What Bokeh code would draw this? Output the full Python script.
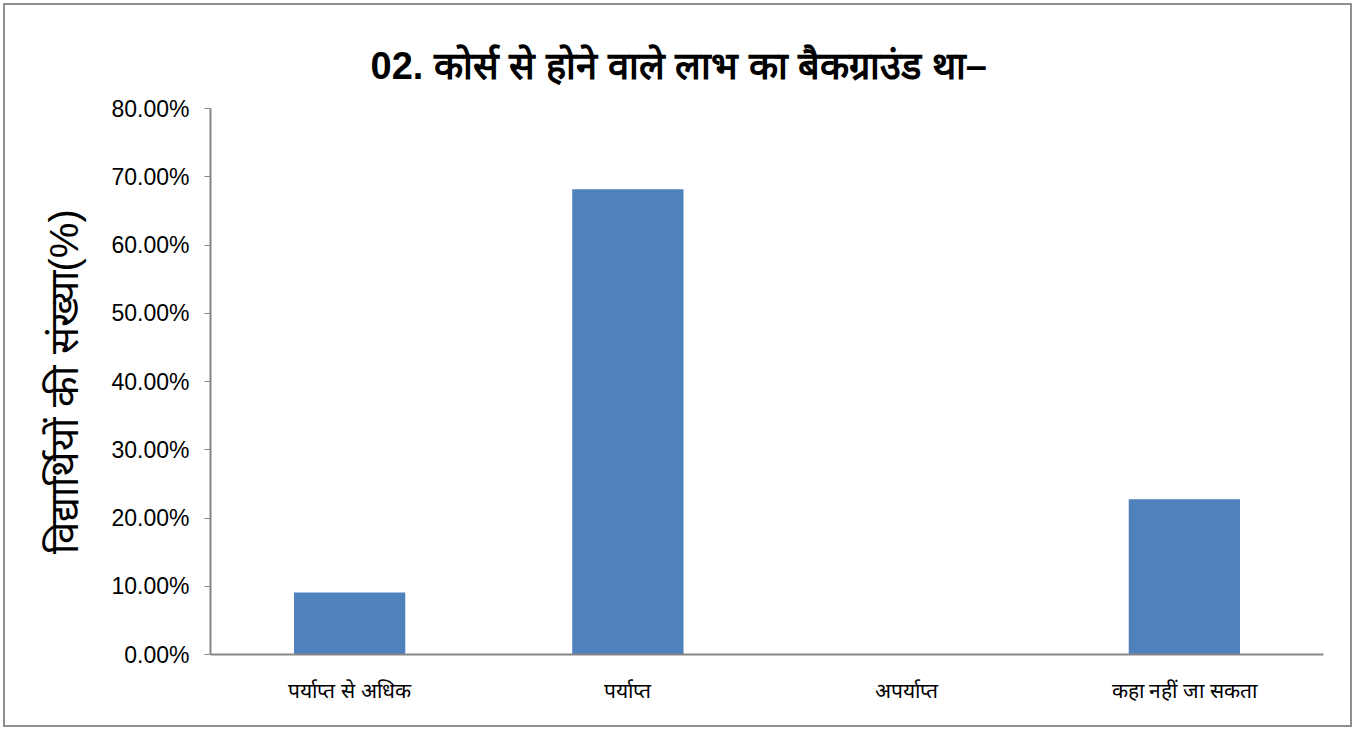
from bokeh.plotting import figure
from bokeh.models import NumeralTickFormatter, FixedTicker
from bokeh.embed import file_html
from bokeh.resources import INLINE

categories = ["पर्याप्त से अधिक", "पर्याप्त", "अपर्याप्त", "कहा नहीं जा सकता"]
values = [0.0909, 0.6818, 0.0, 0.2273]
y_ticks = [0.0, 0.1, 0.2, 0.3, 0.4, 0.5, 0.6, 0.7, 0.8]
title_text = "02. कोर्स से होने वाले लाभ का बैकग्राउंड था–"
y_label = "विद्यार्थियों की संख्या(%)"

p = figure(x_range=categories, y_range=(0, 0.8), width=1349, height=724,
           output_backend="svg", toolbar_location=None,
           min_border_left=205, min_border_right=31, min_border_top=103, min_border_bottom=75,
           styles={"border": "2px solid #8f8f8f", "box-sizing": "border-box", "margin-left": "3px", "margin-top": "3px"})

p.vbar(x=categories, top=values, width=0.4, color="#4F81BD", line_color=None)

p.title.text = title_text
p.title.align = "left"
p.title.vertical_align = "top"
p.title.text_font = "Liberation Sans"
p.title.text_font_size = "38px"
p.title.text_font_style = "bold"
p.title.text_color = "#000000"
p.title.standoff = 40
p.title.offset = 160

p.xgrid.visible = False
p.ygrid.visible = False
p.outline_line_color = None
p.background_fill_color = "white"
p.border_fill_color = "white"

p.yaxis.ticker = FixedTicker(ticks=y_ticks)
p.yaxis.formatter = NumeralTickFormatter(format="0.00%")
p.yaxis.axis_line_color = "#868686"
p.yaxis.major_tick_line_color = "#868686"
p.yaxis.major_tick_out = 6
p.yaxis.major_tick_in = 0
p.yaxis.minor_tick_line_color = None
p.yaxis.major_label_text_font = "Liberation Sans"
p.yaxis.major_label_text_font_size = "23px"
p.yaxis.major_label_text_color = "#000000"
p.yaxis.major_label_standoff = 15
p.yaxis.axis_label = y_label
p.yaxis.axis_label_text_font = "Liberation Sans"
p.yaxis.axis_label_text_font_size = "40px"
p.yaxis.axis_label_text_font_style = "normal"
p.yaxis.axis_label_text_color = "#000000"
p.yaxis.axis_label_standoff = 22

p.xaxis.axis_line_color = "#868686"
p.xaxis.axis_line_width = 2
p.yaxis.axis_line_width = 2
p.xaxis.major_tick_line_color = None
p.xaxis.minor_tick_line_color = None
p.xaxis.major_label_text_font = "Liberation Sans"
p.xaxis.major_label_text_font_size = "21px"
p.xaxis.major_label_text_color = "#000000"
p.xaxis.major_label_standoff = 18

open("out.html", "w").write(file_html(p, INLINE))
